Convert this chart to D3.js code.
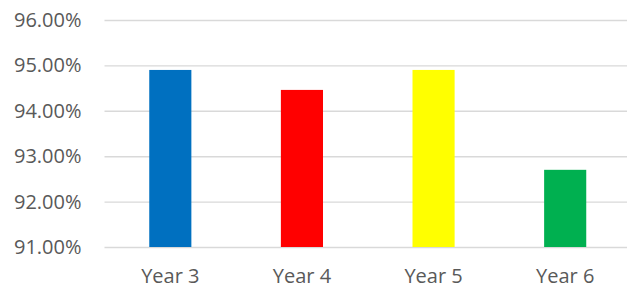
<!DOCTYPE html>
<html>
<head>
<meta charset="utf-8">
<script src="https://cdn.jsdelivr.net/npm/d3@7"></script>
<style>
  body { margin: 0; background: #fff; }
  text { font-family: "Open Sans", sans-serif; fill: #595959; }
</style>
</head>
<body>
<div id="chart"></div>
<script>
var svgWidth = 627;
var svgHeight = 288;

// chart data
var years = ["Year 3", "Year 4", "Year 5", "Year 6"];
var values = [0.949, 0.9446, 0.949, 0.927];
var barColors = ["#0070C0", "#FF0000", "#FFFF00", "#00B050"];
var yTicks = [0.91, 0.92, 0.93, 0.94, 0.95, 0.96];

var margin = { top: 20, right: -4, bottom: 41, left: 104.5 };
var width = svgWidth - margin.left - margin.right;
var height = svgHeight - margin.top - margin.bottom;

var svg = d3.select("#chart")
  .append("svg")
  .attr("width", svgWidth)
  .attr("height", svgHeight);

var chartGroup = svg.append("g")
  .attr("transform", `translate(${margin.left}, ${margin.top})`);

var xScale = d3.scaleBand()
  .domain(years)
  .range([0, width])
  .paddingInner(0.68)
  .paddingOuter(0.34);

var yScale = d3.scaleLinear()
  .domain([0.91, 0.96])
  .range([height, 0]);

// gridlines
var leftAxis = d3.axisLeft(yScale)
  .tickValues(yTicks)
  .tickSize(-width)
  .tickFormat(d3.format(".2%"))
  .tickPadding(23);

var yAxis = chartGroup.append("g").call(leftAxis);
yAxis.select(".domain").remove();
yAxis.selectAll("line")
  .attr("stroke", "#d9d9d9")
  .attr("stroke-width", 1.4);
yAxis.selectAll("text")
  .style("font-size", "20px")
  .attr("fill", "#595959");

// bars
chartGroup.selectAll("rect.bar")
  .data(values)
  .enter()
  .append("rect")
  .attr("class", "bar")
  .attr("x", (d, i) => xScale(years[i]))
  .attr("width", xScale.bandwidth())
  .attr("y", d => yScale(d))
  .attr("height", d => height - yScale(d))
  .attr("fill", (d, i) => barColors[i]);

// x labels
var bottomAxis = d3.axisBottom(xScale).tickSize(0).tickPadding(22);
var xAxis = chartGroup.append("g")
  .attr("transform", `translate(0, ${height})`)
  .call(bottomAxis);
xAxis.select(".domain").remove();
xAxis.selectAll("text")
  .style("font-size", "20px")
  .attr("fill", "#595959");
</script>
</body>
</html>
